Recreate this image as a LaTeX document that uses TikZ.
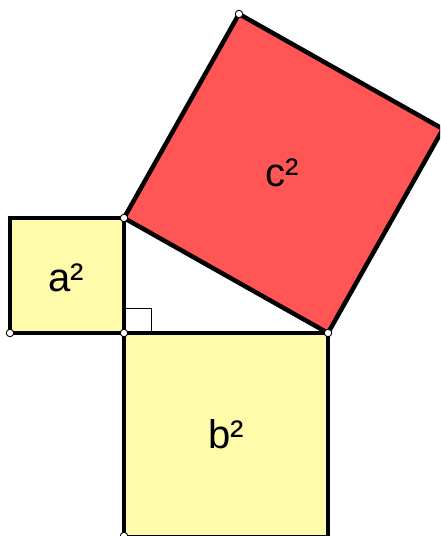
\documentclass[tikz,border=0pt]{standalone}
\usepackage{fontspec}
\setmainfont{Liberation Sans}
\definecolor{sqyellow}{RGB}{255,251,170}
\definecolor{sqred}{RGB}{255,85,85}
\begin{document}
\begin{tikzpicture}[x=1pt,y=-1pt,
  edge/.style={line width=4.5pt,line join=miter},
  pt/.style={circle,draw=black,fill=white,line width=0.9pt,inner sep=0pt,minimum size=7.5pt},
  lab/.style={anchor=base,inner sep=0pt,font=\fontsize{40}{48}\selectfont}]
\useasboundingbox (0,0) rectangle (440,536);
\clip (0,0) rectangle (440,536);
\coordinate (C) at (124,333);
\coordinate (A) at (124,218);
\coordinate (B) at (328,333);
\coordinate (P) at (10,218);
\coordinate (Q) at (10,333);
\coordinate (R) at (124,537);
\coordinate (S) at (328,537);
\coordinate (D) at (443,129);
\coordinate (E) at (239,14);
% squares
\filldraw[edge,fill=sqyellow] (P) -- (A) -- (C) -- (Q) -- cycle;
\filldraw[edge,fill=sqyellow] (C) -- (B) -- (S) -- (R) -- cycle;
\filldraw[edge,fill=sqred] (A) -- (B) -- (D) -- (E) -- cycle;
% right angle marker
\draw[line width=1pt] (124,308) -- (151,308) -- (151,333);
% labels
\node[lab] (la) at (66.5,291) {a²};
\node[lab] (lb) at (226,448) {b²};
\node[lab] (lc) at (282.5,186) {c²};
% points
\node[pt] (pA) at (A) {};
\node[pt] (pC) at (C) {};
\node[pt] (pB) at (B) {};
\node[pt] (pQ) at (Q) {};
\node[pt] (pE) at (E) {};
\node[pt] (pR) at (124,536) {};
\end{tikzpicture}
\end{document}
